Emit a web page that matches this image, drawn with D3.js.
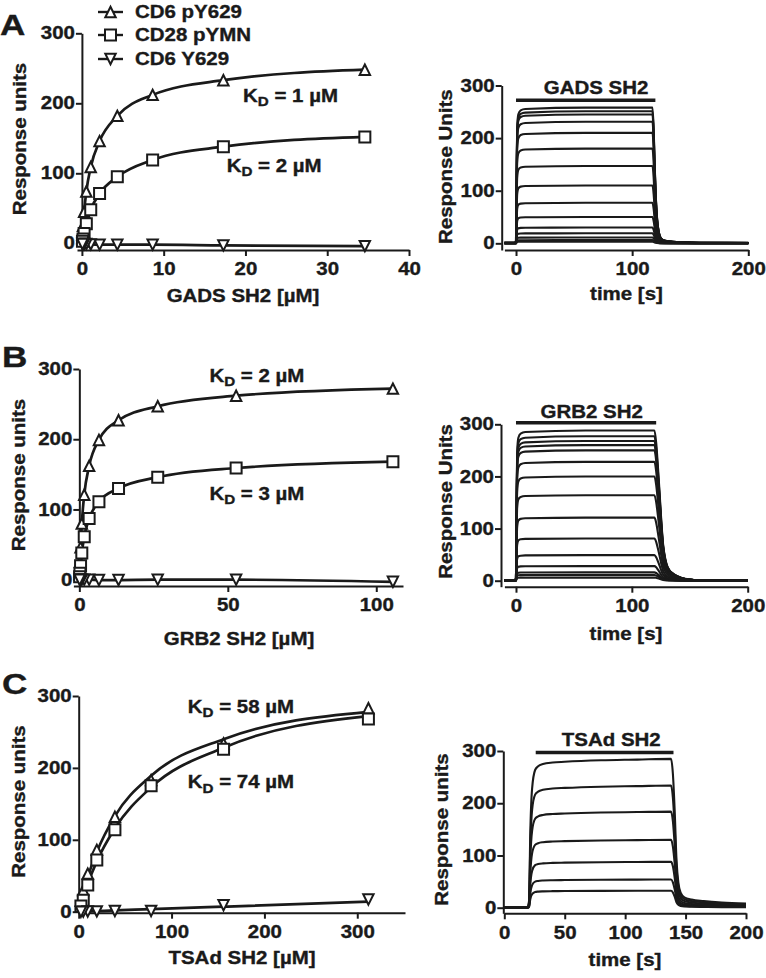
<!DOCTYPE html>
<html><head><meta charset="utf-8">
<script src="https://cdn.jsdelivr.net/npm/d3@7/dist/d3.min.js"></script>
<style>
body{margin:0;background:#fff;}
svg{display:block;}
svg text{font-family:"Liberation Sans",Arial,Helvetica,sans-serif;font-weight:bold;}
</style></head><body>
<svg id="fig" width="766" height="978"></svg>
<script>
// ================= DATA =================
// Legend / series names
const seriesNames = ["CD6 pY629", "CD28 pYMN", "CD6 Y629"];

// Panel A: GADS SH2 equilibrium binding (concentration µM, response units)
const concA   = [34.6, 17.3, 8.65, 4.33, 2.16, 1.08, 0.54, 0.27, 0.135, 0.068];
const triA    = [248, 233, 212, 182, 146, 109, 74, 45, 25, 13];
const sqA     = [152, 138, 119, 95, 71, 48, 28, 14, 6, 3];
const invA    = [-4, -3, -2, -2, -2, -1.5, -1, -1, -1, -1];
const kdA     = ["1", "2"];

// Panel B: GRB2 SH2
const concB   = [105.6, 52.8, 26.4, 13.2, 6.6, 3.3, 1.65, 0.83, 0.41, 0.21, 0.1];
const triB    = [272, 262, 247, 227, 199, 162, 121, 80, 46, 25, 12];
const sqB     = [168, 159, 146, 130, 111, 87, 61, 38, 20, 9, 4];
const invB    = [-3, 0, 0, -0.5, -0.5, 0, 0, 0, 0, 0, 0];
const kdB     = ["2", "3"];

// Panel C: TSAd SH2 (markers, and fitted curves read at the same concentrations)
const concC   = [312, 156, 78, 39, 19.5, 9.75, 4.9, 2.4];
const triC    = [283, 234, 183, 132, 86, 53, 30, 15];
const sqC     = [268, 226, 175, 114, 72, 37, 16, 8];
const invC    = [17, 9, 1, 1, 0.5, 0.3, 0.1, 0];
const triFitC = [278, 240, 189, 133, 83, 48, 26, 13];
const sqFitC  = [272, 228, 173, 116, 70, 39, 21, 11];
const invFitC = [14, 7, 3.5, 1.8, 0.9, 0.5, 0.2, 0.1];
const kdC     = ["58", "74"];

// Sensorgrams: plateau levels (RU) of each injection and the normalised trace shape
const levelsA = [258, 251, 245, 231, 210, 180, 147, 110, 77, 50, 30, 19, 11, 6, 3];
const timeA   = [-10, -0.5, 0, 0.5, 1, 2, 4, 8, 60, 117.5, 118.5, 119.5, 120.5, 121.5, 123, 125, 128, 135, 145, 160, 200];
const shapeA  = [0.004, 0.004, 0.02, 0.5, 0.85, 0.95, 0.98, 0.99, 1, 1, 0.85, 0.55, 0.32, 0.18, 0.08, 0.035, 0.02, 0.012, 0.008, 0.004, 0.003];
const injA    = [0, 120, 272];   // start, end, drawn level of bar
const nameA   = "GADS SH2";

const levelsB = [288, 277, 268, 260, 250, 228, 200, 164, 121, 81, 49, 28, 16, 11, 6];
const timeB   = [-10, -0.5, 0, 0.5, 1, 2, 4, 8, 60, 119.5, 121, 122.5, 124, 125.5, 127, 128.5, 130, 132.5, 135.5, 140, 144, 150, 156, 200];
const shapeB  = [0.004, 0.004, 0.02, 0.5, 0.85, 0.95, 0.98, 0.99, 1, 1, 0.92, 0.76, 0.58, 0.39, 0.24, 0.16, 0.11, 0.07, 0.048, 0.028, 0.016, 0.008, 0.004, 0.003];
const injB    = [0, 121, 303];
const nameB   = "GRB2 SH2";

const levelsC = [285, 234, 184, 130, 88, 54, 32.5];
const timeC   = [0, 19.5, 20.5, 21.5, 23, 25.5, 28, 32, 40, 50, 80, 110, 138, 139.5, 141, 142.5, 144, 146, 149, 155, 165, 180, 200];
const shapeC  = [0.003, 0.003, 0.05, 0.5, 0.8, 0.925, 0.95, 0.965, 0.975, 0.98, 0.99, 0.995, 1, 0.9, 0.65, 0.32, 0.17, 0.1, 0.07, 0.055, 0.045, 0.035, 0.028];
const injC    = [26, 140, 297];
const nameC   = "TSAd SH2";

// ================= DRAWING =================
const INK = "#1a1a1a";
const FS = 17.5, SX = 1.17, TXT_STROKE = 0.35;
const svg = d3.select("#fig");

function txt(g, x, y, str, o = {}) {
  const t = g.append("text")
    .attr("transform", `translate(${x},${y})${o.rot ? ` rotate(${o.rot})` : ""} scale(${SX},1)`)
    .attr("text-anchor", o.anchor || "middle")
    .attr("font-size", o.size || FS)
    .attr("fill", INK).attr("stroke", INK).attr("stroke-width", TXT_STROKE);
  if (str !== null) t.text(str);
  return t;
}

// marker symbol types (drawn by d3.symbol)
const symTri = { draw(c, s) { c.moveTo(0, -s); c.lineTo(s, s); c.lineTo(-s, s); c.closePath(); } };
const symSq  = { draw(c, s) { c.rect(-s, -s, 2 * s, 2 * s); } };
const symInv = { draw(c, s) { c.moveTo(0, s); c.lineTo(s, -s); c.lineTo(-s, -s); c.closePath(); } };
const symbols = [d3.symbol().type(symTri).size(5.2), d3.symbol().type(symSq).size(5.5), d3.symbol().type(symInv).size(5.2)];

function styleAxis(g) {
  g.attr("font-family", null).attr("font-size", null);
  g.selectAll("path.domain").attr("stroke", INK).attr("stroke-width", 2);
  g.selectAll(".tick line").attr("stroke", INK).attr("stroke-width", 2);
  g.selectAll(".tick text").attr("font-size", FS).attr("fill", INK)
    .attr("stroke", INK).attr("stroke-width", TXT_STROKE)
    .attr("transform", `scale(${SX},1)`);
}

function axes(g, x, y, cfg) {
  const gx = g.append("g").attr("transform", `translate(0,${y.range()[0]})`)
    .call(d3.axisBottom(x).tickValues(cfg.xTicks).tickFormat(d3.format("d"))
      .tickSize(6).tickSizeOuter(0).tickPadding(7));
  styleAxis(gx);
  const gy = g.append("g").attr("transform", `translate(${cfg.yAxisX},0)`)
    .call(d3.axisLeft(y).tickValues([0, 100, 200, 300]).tickFormat(d3.format("d"))
      .tickSize(6).tickSizeOuter(0).tickPadding(0));
  styleAxis(gy);
  txt(g, cfg.xTitle[1], cfg.xTitle[2], cfg.xTitle[0]);
  txt(g, cfg.yTitle[1], cfg.yTitle[2], cfg.yTitle[0], { rot: -90 });
}

function kdLabel(g, x, y, val) {
  const t = txt(g, x, y, null, { anchor: "start" });
  t.append("tspan").text("K");
  t.append("tspan").attr("font-size", 13).attr("dy", 4.5).text("D");
  t.append("tspan").attr("dy", -4.5).text(` = ${val} µM`);
}

function bindingPanel(cfg) {
  const g = svg.append("g");
  const x = d3.scaleLinear().domain(cfg.xDom).range(cfg.xRange);
  const y = d3.scaleLinear().domain(cfg.yDom).range(cfg.yRange);
  axes(g, x, y, { ...cfg, yAxisX: x(0) });
  const line = d3.line().x(d => x(d[0])).y(d => y(d[1])).curve(d3.curveMonotoneX);
  // fitted curves
  cfg.fits.forEach((f, i) => {
    const pts = cfg.conc.map((c, j) => [c, f[j]]).sort((a, b) => a[0] - b[0]);
    if (i < 2) pts.unshift([0, 0]);
    g.append("path").attr("d", line(pts)).attr("fill", "none")
      .attr("stroke", INK).attr("stroke-width", 2.7).attr("stroke-linejoin", "round");
  });
  // markers
  cfg.series.forEach((s, i) => {
    g.append("g").selectAll("path").data(cfg.conc.map((c, j) => [c, s[j]])).join("path")
      .attr("transform", d => `translate(${x(d[0])},${y(d[1])})`)
      .attr("d", symbols[i]())
      .attr("fill", "#fff").attr("stroke", INK).attr("stroke-width", 2).attr("stroke-linejoin", "miter");
  });
  kdLabel(g, x(cfg.kdPos[0][0]), y(cfg.kdPos[0][1]), cfg.kd[0]);
  kdLabel(g, x(cfg.kdPos[1][0]), y(cfg.kdPos[1][1]), cfg.kd[1]);
  txt(g, cfg.letter[1], cfg.letter[2], cfg.letter[0], { anchor: "start", size: 30 });
}

function sensorPanel(cfg) {
  const g = svg.append("g");
  const x = d3.scaleLinear().domain(cfg.xDom).range(cfg.xRange);
  const y = d3.scaleLinear().domain(cfg.yDom).range(cfg.yRange);
  axes(g, x, y, cfg);
  const line = d3.line().x(d => x(d[0])).y(d => y(d[1])).curve(d3.curveMonotoneX);
  g.append("g").selectAll("path")
    .data(cfg.levels.map(L => cfg.time.map((t, i) => [t, L * cfg.shape[i]])))
    .join("path").attr("d", line).attr("fill", "none")
    .attr("stroke", INK).attr("stroke-width", 2.1).attr("stroke-linejoin", "round");
  // injection bar + label
  g.append("line").attr("x1", x(cfg.inj[0])).attr("x2", x(cfg.inj[1]))
    .attr("y1", y(cfg.inj[2])).attr("y2", y(cfg.inj[2]))
    .attr("stroke", INK).attr("stroke-width", 3.6);
  txt(g, x(cfg.namePos[0]), y(cfg.namePos[1]), cfg.name);
}

// Legend (panel A)
const lg = svg.append("g");
const legendRows = [12, 35, 59];
seriesNames.forEach((n, i) => {
  lg.append("line").attr("x1", 98).attr("x2", 123).attr("y1", legendRows[i]).attr("y2", legendRows[i])
    .attr("stroke", INK).attr("stroke-width", 2.4);
  lg.append("path").attr("transform", `translate(110.5,${legendRows[i]})`).attr("d", symbols[i]())
    .attr("fill", "#fff").attr("stroke", INK).attr("stroke-width", 2);
  txt(lg, 135, legendRows[i] + 6.3, n, { anchor: "start" });
});

bindingPanel({
  letter: ["A", 0, 35],
  xDom: [-0.6, 40], xRange: [77, 409], yDom: [-9.6, 300], yRange: [250, 33.3],
  xTicks: [0, 10, 20, 30, 40],
  xTitle: ["GADS SH2 [µM]", 243, 302], yTitle: ["Response units", 25.5, 139],
  conc: concA, series: [triA, sqA, invA], fits: [triA, sqA, invA],
  kd: kdA, kdPos: [[19.7, 202], [17.7, 102]]
});
bindingPanel({
  letter: ["B", 2, 367],
  xDom: [-2, 109], xRange: [73.4, 403], yDom: [-9, 300], yRange: [586, 369],
  xTicks: [0, 50, 100],
  xTitle: ["GRB2 SH2 [µM]", 239, 645], yTitle: ["Response units", 25, 475],
  conc: concB, series: [triB, sqB, invB], fits: [triB, sqB, invB],
  kd: kdB, kdPos: [[43.8, 282], [43.8, 113.5]]
});
bindingPanel({
  letter: ["C", 2, 694],
  xDom: [0, 351.4], xRange: [78.7, 405], yDom: [-1.4, 300], yRange: [912.7, 696],
  xTicks: [0, 100, 200, 300],
  xTitle: ["TSAd SH2 [µM]", 242, 964], yTitle: ["Response units", 25, 801.5],
  conc: concC, series: [triC, sqC, invC], fits: [triFitC, sqFitC, invFitC],
  kd: kdC, kdPos: [[117.4, 276.8], [117.4, 171.6]]
});

sensorPanel({
  xDom: [-10, 200], xRange: [504.4, 748.3], yDom: [-12.7, 300], yRange: [250, 85.5],
  xTicks: [0, 100, 200], yAxisX: 501.7,
  xTitle: ["time [s]", 626.5, 300], yTitle: ["Response Units", 452, 166.7],
  levels: levelsA, time: timeA, shape: shapeA, inj: injA, name: nameA, namePos: [68.9, 283]
});
sensorPanel({
  xDom: [-10, 200], xRange: [504.4, 747.7], yDom: [-11.5, 300], yRange: [586.7, 424.3],
  xTicks: [0, 100, 200], yAxisX: 501,
  xTitle: ["time [s]", 626, 640], yTitle: ["Response Units", 451.7, 501.5],
  levels: levelsB, time: timeB, shape: shapeB, inj: injB, name: nameB, namePos: [65.3, 311.5]
});
sensorPanel({
  xDom: [0, 200], xRange: [504.3, 746], yDom: [-10.7, 300], yRange: [913.3, 751],
  xTicks: [0, 50, 100, 150, 200], yAxisX: 503.3,
  xTitle: ["time [s]", 625, 965.5], yTitle: ["Response units", 447.7, 829.5],
  levels: levelsC, time: timeC, shape: shapeC, inj: injC, name: nameC, namePos: [88.5, 309.5]
});
</script>
</body></html>
